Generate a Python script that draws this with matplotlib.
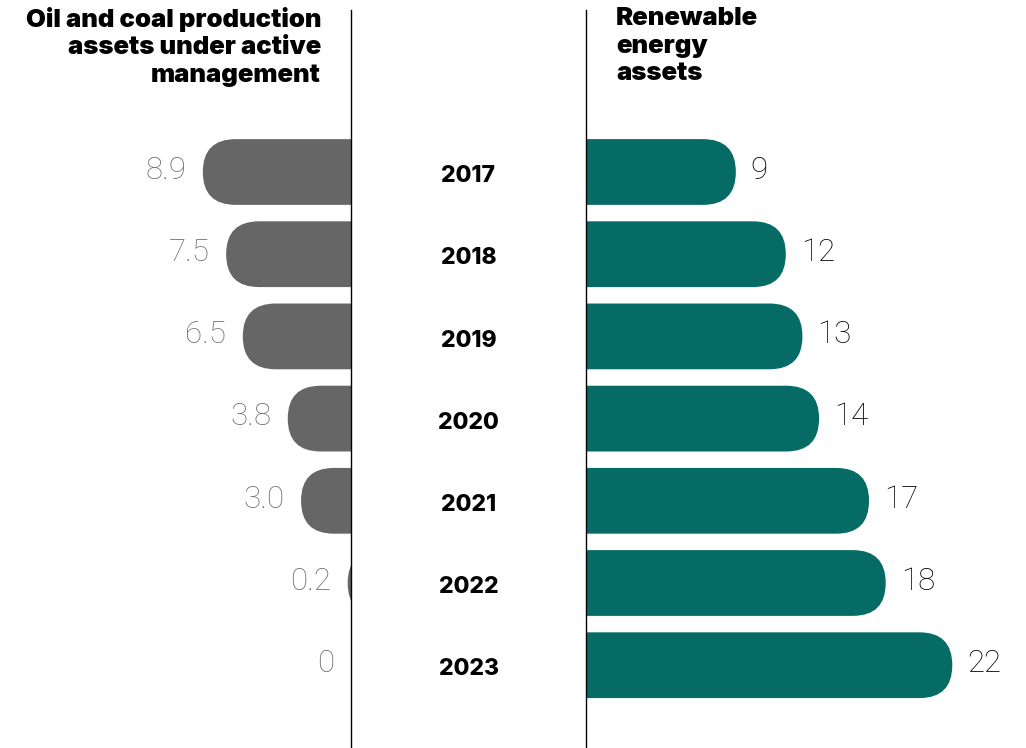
import matplotlib.pyplot as plt
from matplotlib.patches import FancyBboxPatch

# data
years = ["2017", "2018", "2019", "2020", "2021", "2022", "2023"]
fossil = [8.9, 7.5, 6.5, 3.8, 3.0, 0.2, 0]
fossil_labels = ["8.9", "7.5", "6.5", "3.8", "3.0", "0.2", "0"]
renew = [9, 12, 13, 14, 17, 18, 22]

grey = "#666666"
teal = "#076b65"

W, H = 1026, 748
px_per_unit = 16.65   # horizontal pixels per value unit
row_px = 82.2         # vertical pixels per row
top_px = 172          # centre of first row from top
bar_h = 0.80          # in rows
x_left_axis = 351
x_right_axis = 586

fig = plt.figure(figsize=(W / 100, H / 100), dpi=100)

ylim = ((H - top_px) / row_px, -top_px / row_px)
aspect = px_per_unit / row_px   # y units per x unit at equal pixel length
r = (bar_h / 2) / aspect        # rounding radius in x units


def rounded_bars(ax, values, color):
    for i, v in enumerate(values):
        if v <= 0:
            continue
        x0 = -3 * r
        p = FancyBboxPatch((x0, i - bar_h / 2), v - x0, bar_h,
                           boxstyle="round,pad=0,rounding_size=%f" % r,
                           mutation_aspect=aspect, fc=color, ec="none")
        ax.add_patch(p)


# left side: oil and coal
axl = fig.add_axes([0, 0, x_left_axis / W, 1])
axl.set_xlim(x_left_axis / px_per_unit, 0)
axl.set_ylim(*ylim)
axl.axis("off")
rounded_bars(axl, fossil, grey)
for i, (v, lab) in enumerate(zip(fossil, fossil_labels)):
    axl.text(v + 1.0, i - 0.02, lab, ha="right", va="center", fontsize=22.5,
             color="#6e6e6e", family="Roboto", weight="light")

# right side: renewables
axr = fig.add_axes([x_right_axis / W, 0, 1 - x_right_axis / W, 1])
axr.set_xlim(0, (W - x_right_axis) / px_per_unit)
axr.set_ylim(*ylim)
axr.axis("off")
rounded_bars(axr, renew, teal)
for i, v in enumerate(renew):
    axr.text(v + 0.9, i - 0.02, str(v), ha="left", va="center", fontsize=22.5,
             color="black", family="Roboto", weight="light")

# vertical divider lines
line_top = 1 - 10 / H
fig.add_artist(plt.Line2D([x_left_axis / W] * 2, [0, line_top], color="black", lw=1))
fig.add_artist(plt.Line2D([x_right_axis / W] * 2, [0, line_top], color="black", lw=1))

# year labels in the middle
axm = fig.add_axes([x_left_axis / W, 0, (x_right_axis - x_left_axis) / W, 1])
axm.set_xlim(0, 1)
axm.set_ylim(*ylim)
axm.axis("off")
for i, y in enumerate(years):
    axm.text(0.5, i + 0.05, y, ha="center", va="center", fontsize=16.5,
             weight="heavy", family="Inter", color="black")

# titles
fig.text(321 / W, 1 - 7 / H, "Oil and coal production\nassets under active\nmanagement",
         ha="right", va="top", fontsize=18.5, weight="black", family="Inter",
         linespacing=1.25)
fig.text(616 / W, 1 - 7 / H, "Renewable\nenergy\nassets",
         ha="left", va="top", fontsize=18.5, weight="black", family="Inter",
         linespacing=1.25)

fig.savefig("out.png", dpi=100)
